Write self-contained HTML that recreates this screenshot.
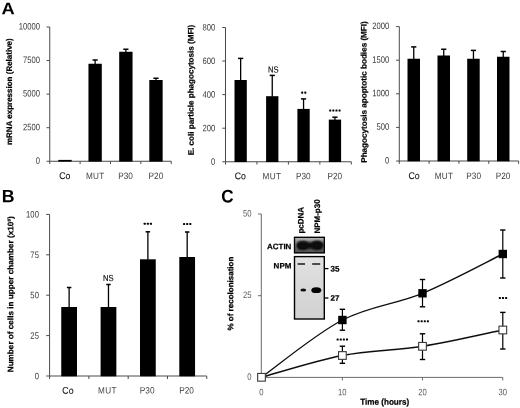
<!DOCTYPE html>
<html><head><meta charset="utf-8"><title>Figure</title>
<style>
html,body{margin:0;padding:0;background:#fff;}
svg{display:block;font-family:"Liberation Sans",sans-serif;}
</style></head>
<body>
<svg width="520" height="408" viewBox="0 0 520 408">
<rect x="0" y="0" width="520" height="408" fill="#fff"/>
<filter id="soft" x="0" y="0" width="100%" height="100%" filterUnits="userSpaceOnUse"><feGaussianBlur stdDeviation="0.3"/></filter>
<g filter="url(#soft)">
<text transform="translate(1.6,14.35) rotate(-0.05) scale(1.09,1)" font-size="16.8" font-weight="bold" fill="#000">A</text>
<text transform="translate(1.75,202.3) rotate(-0.05) scale(0.99,1)" font-size="17.9" font-weight="bold" fill="#000">B</text>
<text transform="translate(221.3,202.6) rotate(-0.05) scale(0.935,1)" font-size="18.3" font-weight="bold" fill="#000">C</text>
<line x1="49.75" y1="27.00" x2="49.75" y2="161.25" stroke="#4a4a4a" stroke-width="1"/>
<line x1="49.75" y1="161.25" x2="171.25" y2="161.25" stroke="#4a4a4a" stroke-width="1"/>
<line x1="46.55" y1="161.25" x2="49.75" y2="161.25" stroke="#4a4a4a" stroke-width="1"/>
<text transform="translate(40.10 163.70) rotate(-0.05) scale(0.825,1)" font-size="9.3" text-anchor="end" fill="#3a3a3a">0</text>
<line x1="46.55" y1="127.69" x2="49.75" y2="127.69" stroke="#4a4a4a" stroke-width="1"/>
<text transform="translate(40.10 130.14) rotate(-0.05) scale(0.825,1)" font-size="9.3" text-anchor="end" fill="#3a3a3a">2500</text>
<line x1="46.55" y1="94.12" x2="49.75" y2="94.12" stroke="#4a4a4a" stroke-width="1"/>
<text transform="translate(40.10 96.58) rotate(-0.05) scale(0.825,1)" font-size="9.3" text-anchor="end" fill="#3a3a3a">5000</text>
<line x1="46.55" y1="60.56" x2="49.75" y2="60.56" stroke="#4a4a4a" stroke-width="1"/>
<text transform="translate(40.10 63.01) rotate(-0.05) scale(0.825,1)" font-size="9.3" text-anchor="end" fill="#3a3a3a">7500</text>
<line x1="46.55" y1="27.00" x2="49.75" y2="27.00" stroke="#4a4a4a" stroke-width="1"/>
<text transform="translate(40.10 29.45) rotate(-0.05) scale(0.825,1)" font-size="9.3" text-anchor="end" fill="#3a3a3a">10000</text>
<line x1="49.75" y1="161.25" x2="49.75" y2="164.05" stroke="#4a4a4a" stroke-width="1"/>
<line x1="80.12" y1="161.25" x2="80.12" y2="164.05" stroke="#4a4a4a" stroke-width="1"/>
<line x1="110.50" y1="161.25" x2="110.50" y2="164.05" stroke="#4a4a4a" stroke-width="1"/>
<line x1="140.88" y1="161.25" x2="140.88" y2="164.05" stroke="#4a4a4a" stroke-width="1"/>
<line x1="171.25" y1="161.25" x2="171.25" y2="164.05" stroke="#4a4a4a" stroke-width="1"/>
<text transform="translate(64.74 179.10) rotate(-0.05) scale(0.9,1)" font-size="9.7" text-anchor="middle" fill="#141414" stroke="#141414" stroke-width="0.1">Co</text>
<text transform="translate(95.31 179.00) rotate(-0.05) scale(0.9,1)" font-size="9.1" text-anchor="middle" fill="#444" letter-spacing="0.4">MUT</text>
<text transform="translate(125.54 179.00) rotate(-0.05) scale(0.9,1)" font-size="9.2" text-anchor="middle" fill="#424242">P30</text>
<text transform="translate(155.91 179.00) rotate(-0.05) scale(0.9,1)" font-size="9.2" text-anchor="middle" fill="#424242">P20</text>
<rect x="58.30" y="159.90" width="13.35" height="1.65" fill="#000"/>
<line x1="95.12" y1="60.00" x2="95.12" y2="64.25" stroke="#000" stroke-width="1.3"/>
<line x1="92.53" y1="60.00" x2="97.72" y2="60.00" stroke="#000" stroke-width="1.5"/>
<rect x="88.45" y="63.75" width="13.35" height="97.80" fill="#000"/>
<line x1="125.88" y1="49.25" x2="125.88" y2="52.25" stroke="#000" stroke-width="1.3"/>
<line x1="123.28" y1="49.25" x2="128.47" y2="49.25" stroke="#000" stroke-width="1.5"/>
<rect x="119.20" y="51.75" width="13.35" height="109.80" fill="#000"/>
<line x1="155.98" y1="78.25" x2="155.98" y2="80.50" stroke="#000" stroke-width="1.3"/>
<line x1="153.38" y1="78.25" x2="158.58" y2="78.25" stroke="#000" stroke-width="1.5"/>
<rect x="149.30" y="80.00" width="13.35" height="81.55" fill="#000"/>
<text transform="translate(11.90 91.70) rotate(-90.05)" font-size="8.0" text-anchor="middle" fill="#000" font-weight="bold" stroke="#000" stroke-width="0.22">mRNA expression (Relative)</text>
<line x1="225.50" y1="27.50" x2="225.50" y2="161.75" stroke="#4a4a4a" stroke-width="1"/>
<line x1="225.50" y1="161.75" x2="351.30" y2="161.75" stroke="#4a4a4a" stroke-width="1"/>
<line x1="222.30" y1="161.75" x2="225.50" y2="161.75" stroke="#4a4a4a" stroke-width="1"/>
<text transform="translate(215.20 164.75) rotate(-0.05) scale(0.825,1)" font-size="9.3" text-anchor="end" fill="#3a3a3a">0</text>
<line x1="222.30" y1="128.19" x2="225.50" y2="128.19" stroke="#4a4a4a" stroke-width="1"/>
<text transform="translate(215.20 131.19) rotate(-0.05) scale(0.825,1)" font-size="9.3" text-anchor="end" fill="#3a3a3a">200</text>
<line x1="222.30" y1="94.62" x2="225.50" y2="94.62" stroke="#4a4a4a" stroke-width="1"/>
<text transform="translate(215.20 97.62) rotate(-0.05) scale(0.825,1)" font-size="9.3" text-anchor="end" fill="#3a3a3a">400</text>
<line x1="222.30" y1="61.06" x2="225.50" y2="61.06" stroke="#4a4a4a" stroke-width="1"/>
<text transform="translate(215.20 64.06) rotate(-0.05) scale(0.825,1)" font-size="9.3" text-anchor="end" fill="#3a3a3a">600</text>
<line x1="222.30" y1="27.50" x2="225.50" y2="27.50" stroke="#4a4a4a" stroke-width="1"/>
<text transform="translate(215.20 30.50) rotate(-0.05) scale(0.825,1)" font-size="9.3" text-anchor="end" fill="#3a3a3a">800</text>
<line x1="225.50" y1="161.75" x2="225.50" y2="164.55" stroke="#4a4a4a" stroke-width="1"/>
<line x1="256.95" y1="161.75" x2="256.95" y2="164.55" stroke="#4a4a4a" stroke-width="1"/>
<line x1="288.40" y1="161.75" x2="288.40" y2="164.55" stroke="#4a4a4a" stroke-width="1"/>
<line x1="319.85" y1="161.75" x2="319.85" y2="164.55" stroke="#4a4a4a" stroke-width="1"/>
<line x1="351.30" y1="161.75" x2="351.30" y2="164.55" stroke="#4a4a4a" stroke-width="1"/>
<text transform="translate(240.22 179.30) rotate(-0.05) scale(0.9,1)" font-size="9.7" text-anchor="middle" fill="#141414" stroke="#141414" stroke-width="0.1">Co</text>
<text transform="translate(271.98 179.20) rotate(-0.05) scale(0.9,1)" font-size="9.1" text-anchor="middle" fill="#444" letter-spacing="0.4">MUT</text>
<text transform="translate(303.28 179.20) rotate(-0.05) scale(0.9,1)" font-size="9.2" text-anchor="middle" fill="#424242">P30</text>
<text transform="translate(334.83 179.20) rotate(-0.05) scale(0.9,1)" font-size="9.2" text-anchor="middle" fill="#424242">P20</text>
<line x1="240.65" y1="58.40" x2="240.65" y2="80.50" stroke="#000" stroke-width="1.3"/>
<line x1="238.05" y1="58.40" x2="243.25" y2="58.40" stroke="#000" stroke-width="1.5"/>
<rect x="234.50" y="80.00" width="12.30" height="82.05" fill="#000"/>
<line x1="272.25" y1="75.40" x2="272.25" y2="96.70" stroke="#000" stroke-width="1.3"/>
<line x1="269.65" y1="75.40" x2="274.85" y2="75.40" stroke="#000" stroke-width="1.5"/>
<rect x="266.10" y="96.20" width="12.30" height="65.85" fill="#000"/>
<line x1="303.55" y1="98.90" x2="303.55" y2="109.40" stroke="#000" stroke-width="1.3"/>
<line x1="300.95" y1="98.90" x2="306.15" y2="98.90" stroke="#000" stroke-width="1.5"/>
<rect x="297.40" y="108.90" width="12.30" height="53.15" fill="#000"/>
<line x1="334.95" y1="117.20" x2="334.95" y2="120.10" stroke="#000" stroke-width="1.3"/>
<line x1="332.35" y1="117.20" x2="337.55" y2="117.20" stroke="#000" stroke-width="1.5"/>
<rect x="328.80" y="119.60" width="12.30" height="42.45" fill="#000"/>
<text transform="translate(193.60 90.00) rotate(-90.05) scale(1.01,1)" font-size="8.0" text-anchor="middle" fill="#000" font-weight="bold" stroke="#000" stroke-width="0.22">E. coli particle phagocytosis (MFI)</text>
<text transform="translate(273.40 72.60) rotate(-0.05) scale(0.88,1)" font-size="8.7" text-anchor="middle" fill="#000" stroke="#000" stroke-width="0.12">NS</text>
<rect x="301.17" y="91.62" width="2.05" height="2.05" rx="0.55" fill="#000"/>
<rect x="304.29" y="91.62" width="2.05" height="2.05" rx="0.55" fill="#000"/>
<rect x="329.19" y="109.52" width="2.05" height="2.05" rx="0.55" fill="#000"/>
<rect x="332.31" y="109.52" width="2.05" height="2.05" rx="0.55" fill="#000"/>
<rect x="335.44" y="109.52" width="2.05" height="2.05" rx="0.55" fill="#000"/>
<rect x="338.56" y="109.52" width="2.05" height="2.05" rx="0.55" fill="#000"/>
<line x1="399.30" y1="26.60" x2="399.30" y2="161.00" stroke="#4a4a4a" stroke-width="1"/>
<line x1="399.30" y1="161.00" x2="518.60" y2="161.00" stroke="#4a4a4a" stroke-width="1"/>
<line x1="396.10" y1="161.00" x2="399.30" y2="161.00" stroke="#4a4a4a" stroke-width="1"/>
<text transform="translate(389.30 163.45) rotate(-0.05) scale(0.825,1)" font-size="9.3" text-anchor="end" fill="#3a3a3a">0</text>
<line x1="396.10" y1="127.40" x2="399.30" y2="127.40" stroke="#4a4a4a" stroke-width="1"/>
<text transform="translate(389.30 129.85) rotate(-0.05) scale(0.825,1)" font-size="9.3" text-anchor="end" fill="#3a3a3a">500</text>
<line x1="396.10" y1="93.80" x2="399.30" y2="93.80" stroke="#4a4a4a" stroke-width="1"/>
<text transform="translate(389.30 96.25) rotate(-0.05) scale(0.825,1)" font-size="9.3" text-anchor="end" fill="#3a3a3a">1000</text>
<line x1="396.10" y1="60.20" x2="399.30" y2="60.20" stroke="#4a4a4a" stroke-width="1"/>
<text transform="translate(389.30 62.65) rotate(-0.05) scale(0.825,1)" font-size="9.3" text-anchor="end" fill="#3a3a3a">1500</text>
<line x1="396.10" y1="26.60" x2="399.30" y2="26.60" stroke="#4a4a4a" stroke-width="1"/>
<text transform="translate(389.30 29.05) rotate(-0.05) scale(0.825,1)" font-size="9.3" text-anchor="end" fill="#3a3a3a">2000</text>
<line x1="399.30" y1="161.00" x2="399.30" y2="163.80" stroke="#4a4a4a" stroke-width="1"/>
<line x1="429.12" y1="161.00" x2="429.12" y2="163.80" stroke="#4a4a4a" stroke-width="1"/>
<line x1="458.95" y1="161.00" x2="458.95" y2="163.80" stroke="#4a4a4a" stroke-width="1"/>
<line x1="488.78" y1="161.00" x2="488.78" y2="163.80" stroke="#4a4a4a" stroke-width="1"/>
<line x1="518.60" y1="161.00" x2="518.60" y2="163.80" stroke="#4a4a4a" stroke-width="1"/>
<text transform="translate(414.01 179.10) rotate(-0.05) scale(0.9,1)" font-size="9.7" text-anchor="middle" fill="#141414" stroke="#141414" stroke-width="0.1">Co</text>
<text transform="translate(444.04 179.00) rotate(-0.05) scale(0.9,1)" font-size="9.1" text-anchor="middle" fill="#444" letter-spacing="0.4">MUT</text>
<text transform="translate(473.71 179.00) rotate(-0.05) scale(0.9,1)" font-size="9.2" text-anchor="middle" fill="#424242">P30</text>
<text transform="translate(503.04 179.00) rotate(-0.05) scale(0.9,1)" font-size="9.2" text-anchor="middle" fill="#424242">P20</text>
<line x1="413.75" y1="46.90" x2="413.75" y2="59.25" stroke="#000" stroke-width="1.3"/>
<line x1="411.15" y1="46.90" x2="416.35" y2="46.90" stroke="#000" stroke-width="1.5"/>
<rect x="407.50" y="58.75" width="12.50" height="102.55" fill="#000"/>
<line x1="443.75" y1="49.25" x2="443.75" y2="56.00" stroke="#000" stroke-width="1.3"/>
<line x1="441.15" y1="49.25" x2="446.35" y2="49.25" stroke="#000" stroke-width="1.5"/>
<rect x="437.50" y="55.50" width="12.50" height="105.80" fill="#000"/>
<line x1="473.45" y1="50.40" x2="473.45" y2="59.25" stroke="#000" stroke-width="1.3"/>
<line x1="470.85" y1="50.40" x2="476.05" y2="50.40" stroke="#000" stroke-width="1.5"/>
<rect x="467.20" y="58.75" width="12.50" height="102.55" fill="#000"/>
<line x1="503.25" y1="51.50" x2="503.25" y2="57.25" stroke="#000" stroke-width="1.3"/>
<line x1="500.65" y1="51.50" x2="505.85" y2="51.50" stroke="#000" stroke-width="1.5"/>
<rect x="497.00" y="56.75" width="12.50" height="104.55" fill="#000"/>
<text transform="translate(366.60 92.00) rotate(-90.05) scale(1.017,1)" font-size="8.0" text-anchor="middle" fill="#000" font-weight="bold" stroke="#000" stroke-width="0.22">Phagocytosis apoptotic bodies (MFI)</text>
<line x1="49.60" y1="214.40" x2="49.60" y2="376.00" stroke="#4a4a4a" stroke-width="1"/>
<line x1="49.60" y1="376.00" x2="206.75" y2="376.00" stroke="#4a4a4a" stroke-width="1"/>
<line x1="46.20" y1="376.00" x2="49.60" y2="376.00" stroke="#4a4a4a" stroke-width="1"/>
<text transform="translate(38.90 379.15) rotate(-0.05) scale(0.825,1)" font-size="9.3" text-anchor="end" fill="#3a3a3a">0</text>
<line x1="46.20" y1="335.60" x2="49.60" y2="335.60" stroke="#4a4a4a" stroke-width="1"/>
<text transform="translate(38.90 338.75) rotate(-0.05) scale(0.825,1)" font-size="9.3" text-anchor="end" fill="#3a3a3a">25</text>
<line x1="46.20" y1="295.20" x2="49.60" y2="295.20" stroke="#4a4a4a" stroke-width="1"/>
<text transform="translate(38.90 298.35) rotate(-0.05) scale(0.825,1)" font-size="9.3" text-anchor="end" fill="#3a3a3a">50</text>
<line x1="46.20" y1="254.80" x2="49.60" y2="254.80" stroke="#4a4a4a" stroke-width="1"/>
<text transform="translate(38.90 257.95) rotate(-0.05) scale(0.825,1)" font-size="9.3" text-anchor="end" fill="#3a3a3a">75</text>
<line x1="46.20" y1="214.40" x2="49.60" y2="214.40" stroke="#4a4a4a" stroke-width="1"/>
<text transform="translate(38.90 217.55) rotate(-0.05) scale(0.825,1)" font-size="9.3" text-anchor="end" fill="#3a3a3a">100</text>
<line x1="49.60" y1="376.00" x2="49.60" y2="379.00" stroke="#4a4a4a" stroke-width="1"/>
<line x1="88.89" y1="376.00" x2="88.89" y2="379.00" stroke="#4a4a4a" stroke-width="1"/>
<line x1="128.18" y1="376.00" x2="128.18" y2="379.00" stroke="#4a4a4a" stroke-width="1"/>
<line x1="167.46" y1="376.00" x2="167.46" y2="379.00" stroke="#4a4a4a" stroke-width="1"/>
<line x1="206.75" y1="376.00" x2="206.75" y2="379.00" stroke="#4a4a4a" stroke-width="1"/>
<text transform="translate(67.94 393.70) rotate(-0.05) scale(0.9,1)" font-size="9.7" text-anchor="middle" fill="#141414" stroke="#141414" stroke-width="0.1">Co</text>
<text transform="translate(107.43 393.60) rotate(-0.05) scale(0.9,1)" font-size="9.1" text-anchor="middle" fill="#444" letter-spacing="0.4">MUT</text>
<text transform="translate(147.17 393.60) rotate(-0.05) scale(0.9,1)" font-size="9.2" text-anchor="middle" fill="#424242">P30</text>
<text transform="translate(186.56 393.60) rotate(-0.05) scale(0.9,1)" font-size="9.2" text-anchor="middle" fill="#424242">P20</text>
<line x1="69.12" y1="287.50" x2="69.12" y2="307.50" stroke="#000" stroke-width="1.3"/>
<line x1="66.88" y1="287.50" x2="71.38" y2="287.50" stroke="#000" stroke-width="1.5"/>
<rect x="61.25" y="307.00" width="15.75" height="69.30" fill="#000"/>
<line x1="108.47" y1="284.50" x2="108.47" y2="307.50" stroke="#000" stroke-width="1.3"/>
<line x1="106.22" y1="284.50" x2="110.72" y2="284.50" stroke="#000" stroke-width="1.5"/>
<rect x="100.60" y="307.00" width="15.75" height="69.30" fill="#000"/>
<line x1="147.88" y1="231.80" x2="147.88" y2="259.80" stroke="#000" stroke-width="1.3"/>
<line x1="145.62" y1="231.80" x2="150.12" y2="231.80" stroke="#000" stroke-width="1.5"/>
<rect x="140.00" y="259.30" width="15.75" height="117.00" fill="#000"/>
<line x1="187.18" y1="232.00" x2="187.18" y2="257.50" stroke="#000" stroke-width="1.3"/>
<line x1="184.93" y1="232.00" x2="189.43" y2="232.00" stroke="#000" stroke-width="1.5"/>
<rect x="179.30" y="257.00" width="15.75" height="119.30" fill="#000"/>
<text transform="translate(13.20 294.30) rotate(-90.05) scale(1.02,1)" font-size="8.0" text-anchor="middle" fill="#000" font-weight="bold" stroke="#000" stroke-width="0.22">Number of cells in upper chamber (x10&#179;)</text>
<text transform="translate(108.40 281.00) rotate(-0.05) scale(0.88,1)" font-size="8.7" text-anchor="middle" fill="#000" stroke="#000" stroke-width="0.12">NS</text>
<rect x="143.70" y="222.72" width="2.05" height="2.05" rx="0.55" fill="#000"/>
<rect x="146.82" y="222.72" width="2.05" height="2.05" rx="0.55" fill="#000"/>
<rect x="149.94" y="222.72" width="2.05" height="2.05" rx="0.55" fill="#000"/>
<rect x="183.05" y="223.07" width="2.05" height="2.05" rx="0.55" fill="#000"/>
<rect x="186.17" y="223.07" width="2.05" height="2.05" rx="0.55" fill="#000"/>
<rect x="189.29" y="223.07" width="2.05" height="2.05" rx="0.55" fill="#000"/>
<line x1="261.30" y1="214.00" x2="261.30" y2="377.40" stroke="#6a6a6a" stroke-width="1"/>
<line x1="261.30" y1="377.40" x2="502.80" y2="377.40" stroke="#6a6a6a" stroke-width="1"/>
<line x1="258.10" y1="377.40" x2="261.30" y2="377.40" stroke="#6a6a6a" stroke-width="1"/>
<text transform="translate(251.50 379.80) rotate(-0.05) scale(0.825,1)" font-size="9.3" text-anchor="end" fill="#5c5c5c">0</text>
<line x1="258.10" y1="295.70" x2="261.30" y2="295.70" stroke="#6a6a6a" stroke-width="1"/>
<text transform="translate(251.50 298.10) rotate(-0.05) scale(0.825,1)" font-size="9.3" text-anchor="end" fill="#5c5c5c">25</text>
<line x1="258.10" y1="214.00" x2="261.30" y2="214.00" stroke="#6a6a6a" stroke-width="1"/>
<text transform="translate(251.50 216.40) rotate(-0.05) scale(0.825,1)" font-size="9.3" text-anchor="end" fill="#5c5c5c">50</text>
<line x1="261.50" y1="377.40" x2="261.50" y2="380.40" stroke="#6a6a6a" stroke-width="1"/>
<text transform="translate(261.50 395.30) rotate(-0.05) scale(0.825,1)" font-size="9.3" text-anchor="middle" fill="#5c5c5c">0</text>
<line x1="342.30" y1="377.40" x2="342.30" y2="380.40" stroke="#6a6a6a" stroke-width="1"/>
<text transform="translate(342.30 395.30) rotate(-0.05) scale(0.825,1)" font-size="9.3" text-anchor="middle" fill="#5c5c5c">10</text>
<line x1="422.50" y1="377.40" x2="422.50" y2="380.40" stroke="#6a6a6a" stroke-width="1"/>
<text transform="translate(422.50 395.30) rotate(-0.05) scale(0.825,1)" font-size="9.3" text-anchor="middle" fill="#5c5c5c">20</text>
<line x1="502.80" y1="377.40" x2="502.80" y2="380.40" stroke="#6a6a6a" stroke-width="1"/>
<text transform="translate(502.80 395.30) rotate(-0.05) scale(0.825,1)" font-size="9.3" text-anchor="middle" fill="#5c5c5c">30</text>
<text transform="translate(384.70 404.80) rotate(-0.05) scale(0.935,1)" font-size="8.7" text-anchor="middle" fill="#000" font-weight="bold" stroke="#000" stroke-width="0.22">Time (hours)</text>
<text transform="translate(233.20 293.60) rotate(-90.05)" font-size="8.0" text-anchor="middle" fill="#000" font-weight="bold" stroke="#000" stroke-width="0.22">% of recolonisation</text>
<path d="M261.50,377.30 C274.98,367.75 315.57,334.00 342.40,320.00 C369.23,306.00 395.77,304.30 422.50,293.30 C449.23,282.30 489.42,260.55 502.80,254.00" fill="none" stroke="#111" stroke-width="1.4"/>
<path d="M261.50,377.30 C274.98,373.67 315.57,360.67 342.40,355.50 C369.23,350.33 395.77,350.55 422.50,346.30 C449.23,342.05 489.42,332.72 502.80,330.00" fill="none" stroke="#111" stroke-width="1.4"/>
<line x1="342.40" y1="309.30" x2="342.40" y2="330.20" stroke="#000" stroke-width="1.2"/>
<line x1="339.70" y1="309.30" x2="345.10" y2="309.30" stroke="#000" stroke-width="1.4"/>
<line x1="339.70" y1="330.20" x2="345.10" y2="330.20" stroke="#000" stroke-width="1.4"/>
<line x1="422.50" y1="279.50" x2="422.50" y2="306.80" stroke="#000" stroke-width="1.2"/>
<line x1="419.80" y1="279.50" x2="425.20" y2="279.50" stroke="#000" stroke-width="1.4"/>
<line x1="419.80" y1="306.80" x2="425.20" y2="306.80" stroke="#000" stroke-width="1.4"/>
<line x1="502.80" y1="230.00" x2="502.80" y2="278.00" stroke="#000" stroke-width="1.2"/>
<line x1="500.10" y1="230.00" x2="505.50" y2="230.00" stroke="#000" stroke-width="1.4"/>
<line x1="500.10" y1="278.00" x2="505.50" y2="278.00" stroke="#000" stroke-width="1.4"/>
<line x1="342.40" y1="346.20" x2="342.40" y2="363.30" stroke="#000" stroke-width="1.2"/>
<line x1="339.70" y1="346.20" x2="345.10" y2="346.20" stroke="#000" stroke-width="1.4"/>
<line x1="339.70" y1="363.30" x2="345.10" y2="363.30" stroke="#000" stroke-width="1.4"/>
<line x1="422.50" y1="333.80" x2="422.50" y2="359.50" stroke="#000" stroke-width="1.2"/>
<line x1="419.80" y1="333.80" x2="425.20" y2="333.80" stroke="#000" stroke-width="1.4"/>
<line x1="419.80" y1="359.50" x2="425.20" y2="359.50" stroke="#000" stroke-width="1.4"/>
<line x1="502.80" y1="312.40" x2="502.80" y2="349.00" stroke="#000" stroke-width="1.2"/>
<line x1="500.10" y1="312.40" x2="505.50" y2="312.40" stroke="#000" stroke-width="1.4"/>
<line x1="500.10" y1="349.00" x2="505.50" y2="349.00" stroke="#000" stroke-width="1.4"/>
<rect x="338.20" y="315.80" width="8.40" height="8.40" fill="#000"/>
<rect x="418.30" y="289.10" width="8.40" height="8.40" fill="#000"/>
<rect x="498.60" y="249.80" width="8.40" height="8.40" fill="#000"/>
<rect x="257.65" y="373.45" width="7.70" height="7.70" fill="#fff" stroke="#3a3a3a" stroke-width="1.1"/>
<rect x="338.55" y="351.65" width="7.70" height="7.70" fill="#fff" stroke="#3a3a3a" stroke-width="1.1"/>
<rect x="418.65" y="342.45" width="7.70" height="7.70" fill="#fff" stroke="#3a3a3a" stroke-width="1.1"/>
<rect x="498.95" y="326.15" width="7.70" height="7.70" fill="#fff" stroke="#3a3a3a" stroke-width="1.1"/>
<rect x="336.60" y="338.48" width="2.05" height="2.05" rx="0.55" fill="#000"/>
<rect x="339.72" y="338.48" width="2.05" height="2.05" rx="0.55" fill="#000"/>
<rect x="342.84" y="338.48" width="2.05" height="2.05" rx="0.55" fill="#000"/>
<rect x="345.96" y="338.48" width="2.05" height="2.05" rx="0.55" fill="#000"/>
<rect x="417.50" y="320.28" width="2.05" height="2.05" rx="0.55" fill="#000"/>
<rect x="420.62" y="320.28" width="2.05" height="2.05" rx="0.55" fill="#000"/>
<rect x="423.74" y="320.28" width="2.05" height="2.05" rx="0.55" fill="#000"/>
<rect x="426.86" y="320.28" width="2.05" height="2.05" rx="0.55" fill="#000"/>
<rect x="498.86" y="296.98" width="2.05" height="2.05" rx="0.55" fill="#000"/>
<rect x="501.98" y="296.98" width="2.05" height="2.05" rx="0.55" fill="#000"/>
<rect x="505.10" y="296.98" width="2.05" height="2.05" rx="0.55" fill="#000"/>
<defs><filter id="b1" x="-30%" y="-30%" width="160%" height="160%"><feGaussianBlur stdDeviation="0.9"/></filter><filter id="b2" x="-30%" y="-30%" width="160%" height="160%"><feGaussianBlur stdDeviation="0.6"/></filter></defs>
<linearGradient id="ag" x1="0" y1="0" x2="0" y2="1"><stop offset="0" stop-color="#b8b8b8"/><stop offset="0.35" stop-color="#8a8a8a"/><stop offset="1" stop-color="#4c4c4c"/></linearGradient>
<linearGradient id="ng" x1="0" y1="0" x2="0" y2="1"><stop offset="0" stop-color="#e2e2e2"/><stop offset="0.5" stop-color="#d8d8d8"/><stop offset="1" stop-color="#d2d2d2"/></linearGradient>
<clipPath id="ac"><rect x="294.5" y="237.3" width="29.8" height="15.6"/></clipPath>
<rect x="294.50" y="237.30" width="29.80" height="15.60" fill="url(#ag)"/>
<g clip-path="url(#ac)">
<ellipse cx="302.9" cy="245.4" rx="6.3" ry="4.3" fill="#000" filter="url(#b1)"/>
<ellipse cx="317.0" cy="245.2" rx="6.3" ry="4.5" fill="#000" filter="url(#b1)"/>
<rect x="298" y="242.3" width="24" height="6.2" fill="#0a0a0a" filter="url(#b1)"/>
</g>
<rect x="294.50" y="237.30" width="29.80" height="15.60" fill="none" stroke="#000" stroke-width="1.35"/>
<rect x="294.50" y="256.60" width="29.80" height="62.40" fill="url(#ng)" stroke="#000" stroke-width="1.4"/>
<rect x="297.6" y="263.1" width="7.4" height="1.8" fill="#3a3a3a" filter="url(#b2)"/>
<rect x="312.2" y="263.1" width="8.0" height="1.8" fill="#3a3a3a" filter="url(#b2)"/>
<ellipse cx="303.3" cy="290.0" rx="2.9" ry="1.5" fill="#111" filter="url(#b2)"/>
<ellipse cx="316.3" cy="290.2" rx="5.0" ry="2.9" fill="#000" filter="url(#b2)"/>
<line x1="324.30" y1="268.60" x2="328.40" y2="268.60" stroke="#000" stroke-width="1.3"/>
<line x1="324.30" y1="298.00" x2="328.40" y2="298.00" stroke="#000" stroke-width="1.3"/>
<text transform="translate(330.60 271.40) rotate(-0.05)" font-size="8.0" text-anchor="start" fill="#000" font-weight="bold" stroke="#000" stroke-width="0.22">35</text>
<text transform="translate(330.60 300.80) rotate(-0.05)" font-size="8.0" text-anchor="start" fill="#000" font-weight="bold" stroke="#000" stroke-width="0.22">27</text>
<text transform="translate(291.40 249.20) rotate(-0.05)" font-size="8.0" text-anchor="end" fill="#000" font-weight="bold" stroke="#000" stroke-width="0.22">ACTIN</text>
<text transform="translate(291.40 268.40) rotate(-0.05)" font-size="8.0" text-anchor="end" fill="#000" font-weight="bold" stroke="#000" stroke-width="0.22">NPM</text>
<text transform="translate(303.50 233.60) rotate(-90.05)" font-size="8.0" text-anchor="start" fill="#000" font-weight="bold" stroke="#000" stroke-width="0.22">pcDNA</text>
<text transform="translate(319.90 233.60) rotate(-90.05)" font-size="8.0" text-anchor="start" fill="#000" font-weight="bold" stroke="#000" stroke-width="0.22">NPM-p30</text>
</g>
</svg>
</body></html>
